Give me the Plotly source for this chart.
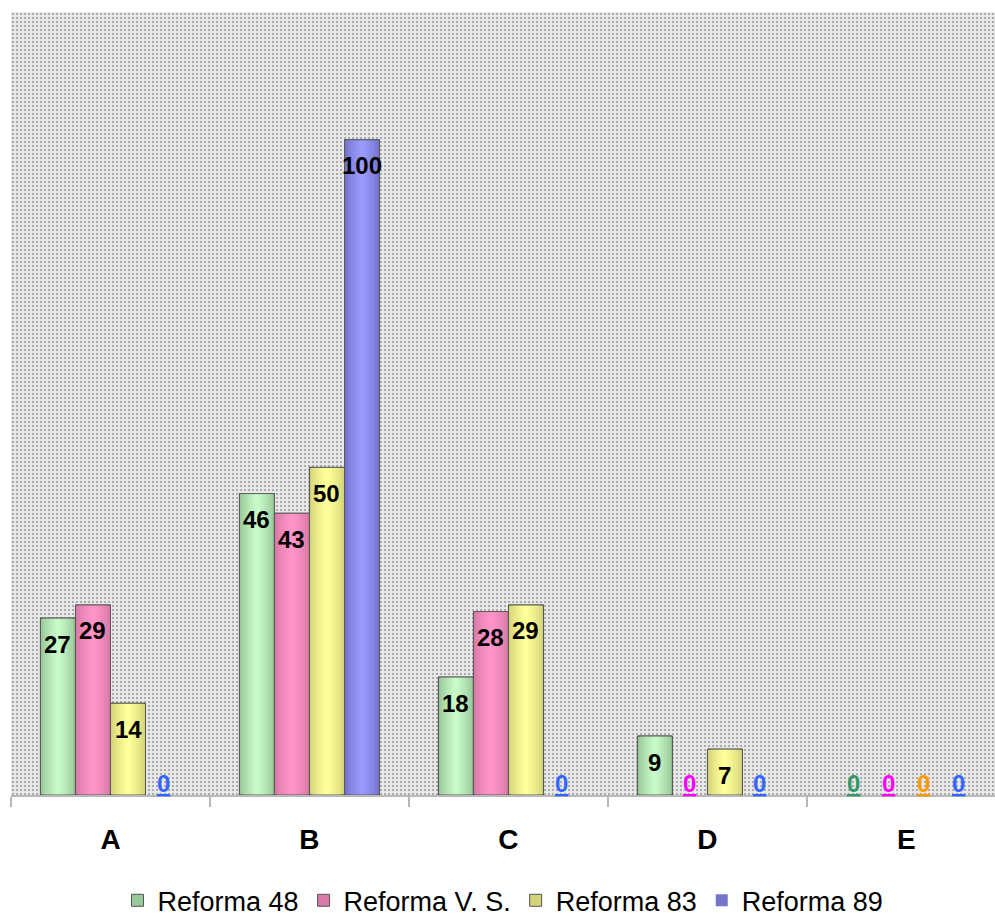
import base64
import plotly.graph_objects as go

# ---- data ----
categories = ["A", "B", "C", "D", "E"]
series_names = ["Reforma 48", "Reforma V. S.", "Reforma 83", "Reforma 89"]
reforma_48 = [27, 46, 18, 9, 0]
reforma_vs = [29, 43, 28, 0, 0]
reforma_83 = [14, 50, 29, 7, 0]
reforma_89 = [0, 100, 0, 0, 0]
series_values = [reforma_48, reforma_vs, reforma_83, reforma_89]

# ---- styling ----
edge_colors = ["#99c899", "#d97aa8", "#d4d47a", "#7474cc"]
center_colors = ["#c8fac8", "#ff94c9", "#ffff99", "#9a9aff"]
zero_colors = ["#339966", "#ff00ff", "#ff9900", "#3366ff"]
FONT = "Liberation Sans, Arial, sans-serif"

W = 0.176                      # bar width in category units
GROUP_START = -2 * W           # left edge of the first bar in a group
N_LAYERS = 8                   # strips used for the horizontal shading

FIG_W, FIG_H = 995, 921
M_L, M_R, M_T, M_B = 11, 0, 12, 126
PLOT_W, PLOT_H = FIG_W - M_L - M_R, FIG_H - M_T - M_B


def hex_to_rgb(h):
    h = h.lstrip("#")
    return tuple(int(h[i:i + 2], 16) for i in (0, 2, 4))


def mix(c1, c2, t):
    a, b = hex_to_rgb(c1), hex_to_rgb(c2)
    return "rgb({},{},{})".format(*[round(a[i] + (b[i] - a[i]) * t) for i in range(3)])


fig = go.Figure()
annotations = []

for s, (name, vals) in enumerate(zip(series_names, series_values)):
    base_off = GROUP_START + s * W
    outline_w = [1 if v > 0 else 0 for v in vals]
    # shaded strips: darker at the edges, lighter in the middle
    for k in range(N_LAYERS):
        frac = 1 - k / N_LAYERS
        t = (k / (N_LAYERS - 1)) ** 0.8
        fig.add_trace(go.Bar(
            x=categories, y=vals, name=name, legendgroup=name,
            showlegend=(k == 0),
            width=W * frac, offset=base_off + W * (1 - frac) / 2,
            marker=dict(color=mix(edge_colors[s], center_colors[s], t),
                        line=dict(width=outline_w if k == 0 else 0, color="#555555")),
            hoverinfo="skip",
        ))
    # outline on top of the strips
    fig.add_trace(go.Bar(
        x=categories, y=vals, name=name, legendgroup=name, showlegend=False,
        width=W, offset=base_off,
        marker=dict(color="rgba(0,0,0,0)", line=dict(width=outline_w, color="#5a5a5a")),
        hoverinfo="skip",
    ))
    # value labels
    for i, v in enumerate(vals):
        xc = i + base_off + W / 2
        if v > 0:
            annotations.append(dict(
                x=xc, y=v, xref="x", yref="y", text=f"<b>{v}</b>",
                showarrow=False, yanchor="middle", yshift=-26,
                font=dict(family=FONT, size=24, color="black"),
            ))
        else:
            annotations.append(dict(
                x=xc, y=0, xref="x", yref="y", text="<b><u>0</u></b>",
                showarrow=False, yanchor="bottom", yshift=-4,
                font=dict(family=FONT, size=24, color=zero_colors[s]),
            ))

# dotted plot-area fill
svg = (
    f"<svg xmlns='http://www.w3.org/2000/svg' width='{PLOT_W}' height='{PLOT_H}'>"
    "<defs><pattern id='p' width='4' height='4' patternUnits='userSpaceOnUse'>"
    "<rect width='4' height='4' fill='#e8e8e8'/>"
    "<rect x='1' y='1' width='2' height='2' fill='#ababab'/>"
    "</pattern></defs><rect width='100%' height='100%' fill='url(#p)'/></svg>"
)
bg_src = "data:image/svg+xml;base64," + base64.b64encode(svg.encode()).decode()

fig.update_layout(
    width=FIG_W, height=FIG_H,
    margin=dict(l=M_L, r=M_R, t=M_T, b=M_B, autoexpand=False),
    barmode="overlay",
    paper_bgcolor="white", plot_bgcolor="white",
    font=dict(family=FONT, color="black"),
    images=[dict(source=bg_src, xref="paper", yref="paper", x=0, y=1,
                 sizex=1, sizey=1, xanchor="left", yanchor="top",
                 sizing="stretch", layer="below")],
    annotations=annotations,
    legend=dict(orientation="h", x=0.5, xanchor="center",
                yref="container", y=0.022, yanchor="middle",
                font=dict(family=FONT, size=27, color="black"),
                traceorder="normal", itemclick=False),
    xaxis=dict(range=[-0.5, 4.445], showgrid=False, zeroline=False,
               showline=True, linecolor="#b8b8b8", linewidth=2,
               ticks="outside", tickson="boundaries", ticklen=10,
               tickcolor="#b8b8b8", tickwidth=2, ticklabelstandoff=18,
               tickfont=dict(family=FONT, size=28, color="black", weight="bold")),
    yaxis=dict(range=[0, 119.5], showgrid=False, zeroline=False,
               showticklabels=False, showline=False),
)

fig.write_html("out.html")
